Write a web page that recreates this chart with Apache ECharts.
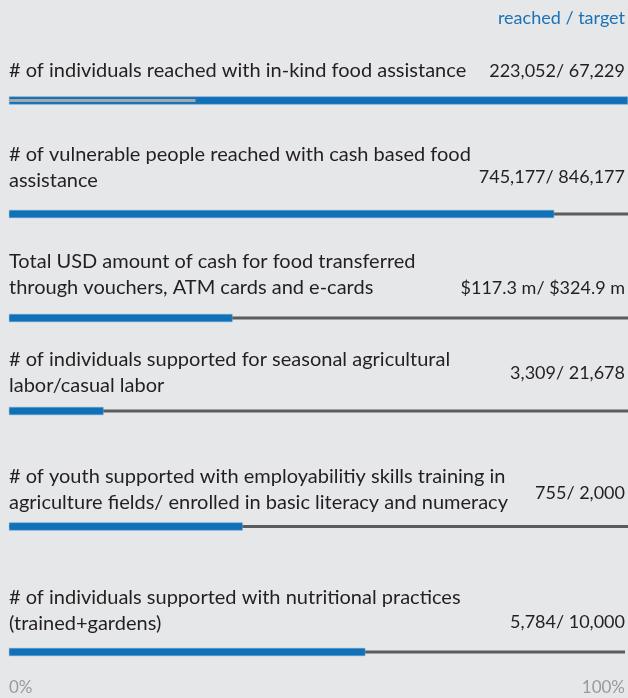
<!DOCTYPE html>
<html>
<head>
<meta charset="utf-8">
<script src="https://cdn.jsdelivr.net/npm/echarts@6/dist/echarts.min.js"></script>
<style>
  html, body { margin: 0; padding: 0; background: #e6e7e8; }
  #main { width: 628px; height: 698px; }
</style>
</head>
<body>
<div id="main"></div>
<script>
// indicators, reached vs target
var labels = [
    '# of individuals reached with in-kind food assistance',
    '# of vulnerable people reached with cash based food\nassistance',
    'Total USD amount of cash for food transferred\nthrough vouchers, ATM cards and e-cards',
    '# of individuals supported for seasonal agricultural\nlabor/casual labor',
    '# of youth supported with employabilitiy skills training in\nagriculture fields/ enrolled in basic literacy and numeracy',
    '# of individuals supported with nutritional practices\n(trained+gardens)'
];
var reached = [223052, 745177, 117.3, 3309, 755, 5784];
var target = [67229, 846177, 324.9, 21678, 2000, 10000];
var prefix = ['', '', '$', '', '', ''];
var suffix = ['', '', ' m', '', '', ''];

// layout (pixels)
var barCenter = [100.5, 214, 318, 411, 526.5, 652];
var labelTop = [58, 142, 249, 347, 464, 585];
var valueTop = [60, 166, 277, 362, 482, 611];

var BLUE = '#1071b9';
var FONT = 'Lato';

function fmt(v, i) {
    var s = prefix[i] === '$' ? v.toFixed(1) : v.toLocaleString('en-US');
    return prefix[i] + s + suffix[i];
}

var myChart = echarts.init(document.getElementById('main'));

var grids = [], xAxes = [], yAxes = [], series = [], titles = [];

titles.push({
    text: 'reached / target',
    right: 3, top: 7, padding: 0,
    textStyle: { color: '#1a73b9', fontSize: 18, fontWeight: 'normal', lineHeight: 22, fontFamily: FONT }
});

for (var i = 0; i < labels.length; i++) {
    var full = Math.max(reached[i], target[i]);
    var over = target[i] < reached[i];
    grids.push({ left: 9, right: 0, top: barCenter[i] - 20, height: 40 });
    var last = i == labels.length - 1;
    xAxes.push({
        gridIndex: i, type: 'value', min: 0, max: 100, interval: 100,
        show: true,
        axisLine: { show: false }, axisTick: { show: false }, splitLine: { show: false },
        axisLabel: {
            show: last, formatter: '{value}%', color: '#9a9a9a', fontSize: 17,
            fontFamily: FONT, margin: 7, alignMinLabel: 'left', alignMaxLabel: 'right'
        }
    });
    yAxes.push({ gridIndex: i, type: 'category', data: [''], show: false });
    yAxes.push({ gridIndex: i, type: 'category', data: [''], show: false });

    series.push({
        name: 'reached', type: 'bar', xAxisIndex: i, yAxisIndex: 2 * i,
        barWidth: 8, z: 2,
        itemStyle: { color: BLUE, borderColor: '#6aa3d4', borderWidth: 0.5 },
        data: [reached[i] / full * 100],
        silent: true
    });
    series.push({
        name: 'target', type: 'bar', xAxisIndex: i, yAxisIndex: 2 * i + 1,
        barWidth: 3, z: over ? 3 : 1,
        itemStyle: { color: over ? '#a7a7a7' : '#5c5c5c' },
        data: [target[i] / full * 100],
        silent: true
    });

    titles.push({
        text: labels[i], left: 9, top: labelTop[i], padding: 0,
        textStyle: { color: '#231f20', fontSize: 20, fontWeight: 'normal', lineHeight: 26, fontFamily: FONT }
    });
    titles.push({
        text: fmt(reached[i], i) + '/ ' + fmt(target[i], i), right: 3, top: valueTop[i], padding: 0,
        textStyle: { color: '#231f20', fontSize: 18, fontWeight: 'normal', lineHeight: 22, fontFamily: FONT }
    });
}

var option = {
    backgroundColor: '#e6e7e8',
    animation: false,
    title: titles,
    grid: grids,
    xAxis: xAxes,
    yAxis: yAxes,
    series: series
};
myChart.setOption(option);
</script>
</body>
</html>
